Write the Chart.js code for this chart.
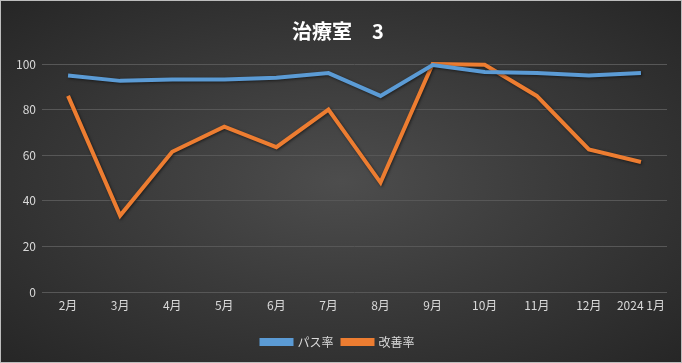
<!DOCTYPE html>
<html><head><meta charset="utf-8">
<script src="https://cdn.jsdelivr.net/npm/chart.js@4.4.1/dist/chart.umd.min.js"></script>
<style>
html,body{margin:0;padding:0;background:#fff;}
#wrap{width:680px;height:361px;border:1px solid #bdbdbd;background:radial-gradient(ellipse at 50% 50%, #4d4d4d 0%, #3b3b3b 45%, #262626 100%);}
canvas{display:block;}
</style></head><body>
<div id="wrap"><canvas id="c" width="680" height="361"></canvas></div>
<script>
const categories = ['2月','3月','4月','5月','6月','7月','8月','9月','10月','11月','12月','2024 1月'];
const passRate = [95, 92.6, 93.2, 93.2, 94, 96, 86, 99.5, 96.5, 96, 95, 96];
const improveRate = [86, 33.5, 61.5, 72.5, 63.5, 80, 48, 100, 99.7, 86, 62.5, 57];
const yTicks = [0, 20, 40, 60, 80, 100];

const font = "'Noto Sans CJK JP','Noto Sans',sans-serif";
const shadow = {
  id:'shadow',
  beforeDatasetsDraw(chart){ const c=chart.ctx; c.save(); c.shadowColor='rgba(0,0,0,0.55)'; c.shadowBlur=3; c.shadowOffsetX=1; c.shadowOffsetY=1; },
  afterDatasetsDraw(chart){ chart.ctx.restore(); }
};
new Chart(document.getElementById('c'), {
  type: 'line',
  data: {
    labels: categories,
    datasets: [
      {label:'パス率', data: passRate, borderColor:'#5b9bd5', backgroundColor:'#5b9bd5', borderWidth:4, pointRadius:0, tension:0, clip:false},
      {label:'改善率', data: improveRate, borderColor:'#ed7d31', backgroundColor:'#ed7d31', borderWidth:4, pointRadius:0, tension:0, clip:false}
    ]
  },
  options: {
    responsive:false, animation:false,
    layout:{padding:{left:8,right:14,top:8,bottom:4}},
    plugins:{
      title:{display:true, text:'治療室　3', color:'#ffffff', font:{family:font, size:20, weight:'bold'}, padding:{top:10,bottom:21}},
      legend:{position:'bottom', labels:{color:'#d9d9d9', font:{family:font, size:12}, boxWidth:30, boxHeight:4, padding:9}},
      tooltip:{enabled:false}
    },
    scales:{
      x:{offset:true, grid:{display:false, drawTicks:false}, border:{display:false}, ticks:{color:'#d9d9d9', font:{family:font, size:12}, maxRotation:0, autoSkip:false, padding:6},
         afterFit:(s)=>{s.height = 35;}},
      y:{min:0, max:100, afterBuildTicks:(s)=>{s.ticks = yTicks.map(v=>({value:v}));}, grid:{color:'#575757', lineWidth:1, drawTicks:false}, border:{display:false},
         ticks:{color:'#d9d9d9', font:{family:font, size:12}, padding:6},
         afterFit:(s)=>{s.width = 33;}}
    }
  },
  plugins:[shadow]
});
</script>
</body></html>
